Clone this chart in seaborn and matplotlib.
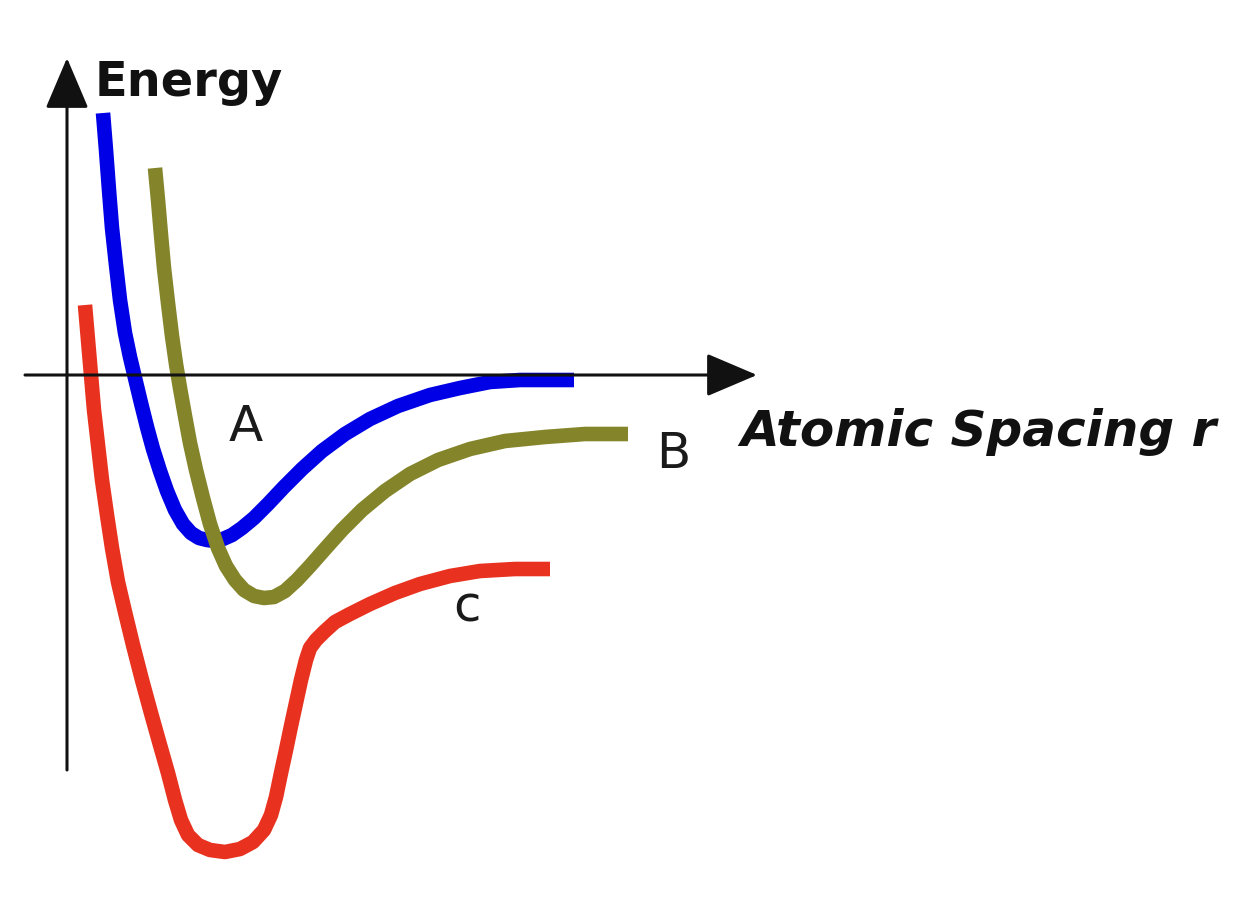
import numpy as np
import pandas as pd
import seaborn as sns
import matplotlib.pyplot as plt

# curve points (pixel-like units, y grows downward)
blue_x = [103, 106, 109, 112, 116, 120, 125, 130, 135, 141, 147, 153, 160, 167, 175, 183, 191, 199, 207, 215, 223, 232, 242, 254, 268, 284, 302, 322, 345, 370, 398, 430, 460, 490, 520, 574]
blue_y = [113, 150, 190, 228, 265, 300, 333, 357, 378, 403, 427, 449, 471, 491, 510, 524, 533, 538, 540, 541, 539, 535, 528, 518, 504, 487, 469, 451, 434, 419, 406, 395, 388, 382, 380, 380]

olive_x = [155, 158, 161, 164, 168, 172, 176, 180, 185, 190, 196, 203, 210, 218, 226, 235, 244, 254, 264, 274, 285, 297, 310, 325, 342, 362, 385, 410, 438, 470, 505, 545, 585, 628]
olive_y = [168, 200, 235, 268, 303, 336, 364, 388, 416, 443, 470, 498, 524, 548, 566, 580, 590, 596, 598, 597, 591, 580, 566, 549, 530, 510, 491, 474, 460, 449, 441, 437, 434, 434]

red_x = [85, 88, 91, 94, 98, 102, 107, 112, 118, 125, 133, 142, 151, 160, 168, 175, 181, 188, 198, 210, 225, 240, 253, 264, 271, 276, 281, 286, 291, 296, 301, 306, 310, 316, 324, 335, 350, 370, 395, 420, 450, 480, 515, 550]
red_y = [305, 340, 375, 410, 445, 480, 515, 548, 582, 612, 645, 680, 713, 745, 773, 800, 820, 835, 845, 850, 852, 849, 842, 830, 815, 797, 773, 750, 726, 703, 680, 660, 648, 640, 632, 622, 614, 604, 593, 584, 576, 571, 569, 569]

curve_colors = {"blue": "#0000e6", "olive": "#84842a", "red": "#e8321f"}

labels = ["A", "B", "c"]
label_xy = [(246, 427), (673, 454), (467, 607)]

x_axis_span = (25, 757)
y_axis_span = (770, 58)
origin = (67, 375)

fig = plt.figure(figsize=(12.52, 9.06), dpi=100)
ax = fig.add_axes([0, 0, 1, 1])
ax.set_xlim(0, 1252)
ax.set_ylim(906, 0)
ax.axis("off")

# axes with arrow heads
arrow = dict(arrowstyle="-|>,head_length=0.8,head_width=0.34", mutation_scale=40,
             lw=2.2, color="#111111", shrinkA=0, shrinkB=0)
ax.annotate("", xy=(x_axis_span[1], origin[1]), xytext=(x_axis_span[0], origin[1]), arrowprops=arrow)
ax.annotate("", xy=(origin[0], y_axis_span[1]), xytext=(origin[0], y_axis_span[0]), arrowprops=arrow)

for xs, ys, key in [(blue_x, blue_y, "blue"), (olive_x, olive_y, "olive"), (red_x, red_y, "red")]:
    sns.lineplot(x=xs, y=ys, color=curve_colors[key], linewidth=10.5, sort=False,
                 estimator=None, ax=ax, solid_capstyle="butt", solid_joinstyle="round")

ax.text(95, 82, "Energy", fontsize=34.5, fontweight="bold", ha="left", va="center",
        family="DejaVu Sans", color="#111111")
ax.text(740, 432, "Atomic Spacing r", fontsize=36, fontweight="bold", style="italic",
        ha="left", va="center", family="DejaVu Sans", color="#111111")
for lab, (lx, ly) in zip(labels, label_xy):
    ax.text(lx, ly, lab, fontsize=36, ha="center", va="center", family="DejaVu Sans", color="#1a1a1a")

fig.savefig("out.png", dpi=100)
